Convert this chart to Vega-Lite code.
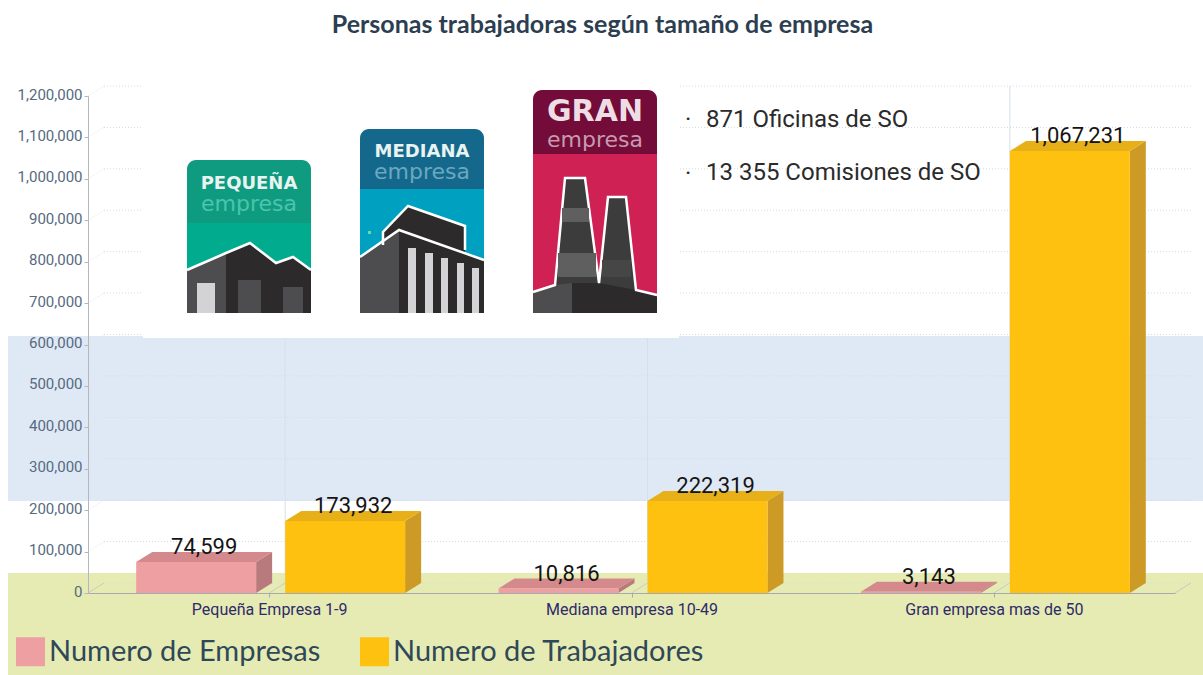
{"$schema":"https://vega.github.io/schema/vega-lite/v6.json","width":1087,"height":497,"autosize":{"type":"none"},"padding":{"left":88,"top":96,"right":28,"bottom":82},"background":"#ffffff","title":{"text":"Personas trabajadoras según tamaño de empresa","anchor":"middle","font":"Lato","fontSize":25,"fontWeight":700,"color":"#2c3e50","dx":-29,"offset":47},"config":{"view":{"stroke":null}},
"datasets":{
"barras":[{"empresa":"Pequeña Empresa 1-9","serie":"Numero de Empresas","valor":74599},{"empresa":"Pequeña Empresa 1-9","serie":"Numero de Trabajadores","valor":173932},{"empresa":"Mediana empresa 10-49","serie":"Numero de Empresas","valor":10816},{"empresa":"Mediana empresa 10-49","serie":"Numero de Trabajadores","valor":222319},{"empresa":"Gran empresa mas de 50","serie":"Numero de Empresas","valor":3143},{"empresa":"Gran empresa mas de 50","serie":"Numero de Trabajadores","valor":1067231}],
"rejilla":[{"v":0},{"v":100000},{"v":200000},{"v":300000},{"v":400000},{"v":500000},{"v":600000},{"v":700000},{"v":800000},{"v":900000},{"v":1000000},{"v":1100000},{"v":1200000}],
"divisiones":[{"d":0},{"d":0.5},{"d":1.5},{"d":2.5},{"d":3}],
"fondos":[{"pieza":"azul","u0":8,"u1":1203,"v0":336,"v1":501},{"pieza":"verde","u0":8,"u1":1203,"v0":573,"v1":675},{"pieza":"parche","u0":143,"u1":679,"v0":85,"v1":338}],
"cabeceras":[{"pieza":"peq cabecera","u0":187,"u1":311,"v0":160,"v1":223},{"pieza":"med cabecera","u0":360,"u1":484,"v0":129,"v1":189},{"pieza":"gran cabecera","u0":533,"u1":657,"v0":90,"v1":154}],
"cuerpos":[{"pieza":"peq cuerpo","u0":187,"u1":311,"v0":215,"v1":313},{"pieza":"med cuerpo","u0":360,"u1":484,"v0":189,"v1":313},{"pieza":"gran cuerpo","u0":533,"u1":657,"v0":154,"v1":313},{"pieza":"peq cabecera","u0":187,"u1":311,"v0":175,"v1":223},{"pieza":"med cabecera","u0":360,"u1":484,"v0":145,"v1":189},{"pieza":"gran cabecera","u0":533,"u1":657,"v0":105,"v1":154}],
"detalles":[{"pieza":"claro","u0":197,"u1":215,"v0":283,"v1":313},{"pieza":"gris","u0":238,"u1":261,"v0":280,"v1":313},{"pieza":"gris","u0":283,"u1":303,"v0":287,"v1":313},{"pieza":"claro","u0":408,"u1":416,"v0":248,"v1":313},{"pieza":"claro","u0":425,"u1":433,"v0":253,"v1":313},{"pieza":"claro","u0":441,"u1":448,"v0":258,"v1":313},{"pieza":"claro","u0":457,"u1":464,"v0":263,"v1":313},{"pieza":"claro","u0":472,"u1":479,"v0":268,"v1":313},{"pieza":"punto","u0":368,"u1":371,"v0":231,"v1":234},{"pieza":"franja","u0":562,"u1":589,"v0":208,"v1":222},{"pieza":"franja","u0":558,"u1":596,"v0":253,"v1":277},{"pieza":"franja2","u0":602,"u1":631,"v0":260,"v1":277}],
"siluetas":[
{"silueta":"gran","pieza":"chimenea","u":533,"v":292},{"silueta":"gran","pieza":"chimenea","u":555,"v":285},{"silueta":"gran","pieza":"chimenea","u":565,"v":178},{"silueta":"gran","pieza":"chimenea","u":585,"v":178},{"silueta":"gran","pieza":"chimenea","u":599,"v":283},{"silueta":"gran","pieza":"chimenea","u":608,"v":197},{"silueta":"gran","pieza":"chimenea","u":626,"v":197},{"silueta":"gran","pieza":"chimenea","u":636,"v":290},{"silueta":"gran","pieza":"chimenea","u":657,"v":295},
{"silueta":"base izq","pieza":"gris","u":533,"v":292},{"silueta":"base izq","pieza":"gris","u":555,"v":285},{"silueta":"base izq","pieza":"gris","u":572,"v":283},
{"silueta":"base der","pieza":"oscuro","u":572,"v":283},{"silueta":"base der","pieza":"oscuro","u":599,"v":283},{"silueta":"base der","pieza":"oscuro","u":636,"v":290},{"silueta":"base der","pieza":"oscuro","u":657,"v":295},
{"silueta":"peq izq","pieza":"gris","u":187,"v":270},{"silueta":"peq izq","pieza":"gris","u":226,"v":253},
{"silueta":"peq der","pieza":"oscuro","u":226,"v":253},{"silueta":"peq der","pieza":"oscuro","u":250,"v":243},{"silueta":"peq der","pieza":"oscuro","u":276,"v":263},{"silueta":"peq der","pieza":"oscuro","u":293,"v":257},{"silueta":"peq der","pieza":"oscuro","u":311,"v":270},
{"silueta":"med alto","pieza":"oscuro","u":383,"v":245},{"silueta":"med alto","pieza":"oscuro","u":383,"v":232},{"silueta":"med alto","pieza":"oscuro","u":408,"v":206},{"silueta":"med alto","pieza":"oscuro","u":465,"v":226},{"silueta":"med alto","pieza":"oscuro","u":465,"v":250},
{"silueta":"med izq","pieza":"gris","u":360,"v":257},{"silueta":"med izq","pieza":"gris","u":399,"v":230},
{"silueta":"med der","pieza":"oscuro","u":399,"v":230},{"silueta":"med der","pieza":"oscuro","u":484,"v":260}],
"rotulos":[{"pieza":"rotulo","texto":"PEQUEÑA","u":249,"v":189,"tam":"normal"},{"pieza":"rotulo","texto":"MEDIANA","u":422,"v":157,"tam":"normal"},{"pieza":"rotulo gran","texto":"GRAN","u":595,"v":121,"tam":"grande"}],
"empresas":[{"pieza":"peq texto","texto":"empresa","u":249,"v":211},{"pieza":"med texto","texto":"empresa","u":422,"v":179},{"pieza":"gran texto","texto":"empresa","u":595,"v":147}],
"notas":[{"texto":"·","u":685,"v":127},{"texto":"871 Oficinas de SO","u":706,"v":127},{"texto":"·","u":685,"v":181},{"texto":"13 355 Comisiones de SO","u":706,"v":180}]
},
"encoding":{
"x":{"field":"x","type":"quantitative","title":null,"scale":{"domain":[0,3],"nice":false,"zero":false},"axis":{"values":[0.5,1.5,2.5],"labelExpr":"['Pequeña Empresa 1-9','Mediana empresa 10-49','Gran empresa mas de 50'][datum.value-0.5]","grid":false,"zindex":1,"domainColor":"#a6a9b4","tickColor":"#a6a9b4","tickSize":4,"labelPadding":4,"labelFont":"Roboto","labelFontSize":16,"labelLimit":300,"labelColor":"#2e2a6b","labelOverlap":false,"labelFlush":false}},
"y":{"field":"y","type":"quantitative","title":null,"scale":{"domain":[0,1200000],"nice":false},"axis":{"values":[0,100000,200000,300000,400000,500000,600000,700000,800000,900000,1000000,1100000,1200000],"labelExpr":"format(datum.value,',')","grid":false,"zindex":1,"domainColor":"#b5b7bd","tickColor":"#b5b7bd","tickSize":4,"labelPadding":2,"labelOffset":-2,"labelFont":"Roboto","labelFontSize":15,"labelColor":"#566a80","labelOverlap":false,"labelFlush":false}}
},
"layer":[
{"data":{"name":"fondos"},"transform":[{"calculate":"(datum.u0-88)/362.33","as":"x"},{"calculate":"(datum.u1-88)/362.33","as":"x2"},{"calculate":"(593-datum.v0)*2414.5","as":"y"},{"calculate":"(593-datum.v1)*2414.5","as":"y2"}],"layer":[
{"transform":[{"filter":"datum.pieza=='azul'"}],"mark":{"type":"rect","fill":"#dfe9f5"},"encoding":{"x2":{"field":"x2"},"y2":{"field":"y2"}}},
{"transform":[{"filter":"datum.pieza=='verde'"}],"mark":{"type":"rect","fill":"#e6ebb4"},"encoding":{"x2":{"field":"x2"},"y2":{"field":"y2"}}}]},
{"data":{"name":"rejilla"},"transform":[{"calculate":"0.0442","as":"x"},{"calculate":"3.0442","as":"x2"},{"calculate":"datum.v+24145","as":"y"}],"mark":{"type":"rule","stroke":"#d5dae0","strokeWidth":1,"strokeDash":[1,2]},"encoding":{"x2":{"field":"x2"}}},
{"data":{"name":"rejilla"},"transform":[{"calculate":"0","as":"x"},{"calculate":"0.0442","as":"x2"},{"calculate":"datum.v","as":"y"},{"calculate":"datum.v+24145","as":"y2"}],"mark":{"type":"rule","stroke":"#dfe2e6","strokeWidth":1,"strokeDash":[1,2]},"encoding":{"x2":{"field":"x2"},"y2":{"field":"y2"}}},
{"data":{"name":"divisiones"},"transform":[{"filter":"datum.d>0&&datum.d<3"},{"calculate":"datum.d+0.0442","as":"x"},{"calculate":"24145","as":"y"},{"calculate":"1224145","as":"y2"}],"mark":{"type":"rule","stroke":"#d6dfe9","strokeWidth":1},"encoding":{"y2":{"field":"y2"}}},
{"data":{"name":"divisiones"},"transform":[{"calculate":"datum.d","as":"x"},{"calculate":"datum.d+0.0442","as":"x2"},{"calculate":"0","as":"y"},{"calculate":"24145","as":"y2"}],"mark":{"type":"rule","stroke":"#c9ccc0","strokeWidth":1},"encoding":{"x2":{"field":"x2"},"y2":{"field":"y2"}}},
{"data":{"name":"fondos"},"transform":[{"filter":"datum.pieza=='parche'"},{"calculate":"(datum.u0-88)/362.33","as":"x"},{"calculate":"(datum.u1-88)/362.33","as":"x2"},{"calculate":"(593-datum.v0)*2414.5","as":"y"},{"calculate":"(593-datum.v1)*2414.5","as":"y2"}],"mark":{"type":"rect","fill":"#ffffff"},"encoding":{"x2":{"field":"x2"},"y2":{"field":"y2"}}},
{"encoding":{"fill":{"field":"pieza","type":"nominal","legend":null,"scale":{"domain":["peq cabecera","med cabecera","gran cabecera","peq cuerpo","med cuerpo","gran cuerpo","claro","gris","oscuro","punto","franja","franja2","chimenea","rotulo","rotulo gran","peq texto","med texto","gran texto"],"range":["#0f9b7f","#14688c","#730c38","#00ab8e","#00a0c0","#cf2154","#d3d3d5","#4d4d4f","#2d2a2b","#6fd6a6","#5f5f5f","#464646","#3c3c3c","#e9f3f2","#eedde4","#4dc4ac","#6ba8c0","#c79aae"]}}},
"layer":[
{"data":{"name":"cabeceras"},"transform":[{"calculate":"(datum.u0-88)/362.33","as":"x"},{"calculate":"(datum.u1-88)/362.33","as":"x2"},{"calculate":"(593-datum.v0)*2414.5","as":"y"},{"calculate":"(593-datum.v1)*2414.5","as":"y2"}],"mark":{"type":"rect","cornerRadiusTopLeft":9,"cornerRadiusTopRight":9},"encoding":{"x2":{"field":"x2"},"y2":{"field":"y2"}}},
{"data":{"name":"cuerpos"},"transform":[{"calculate":"(datum.u0-88)/362.33","as":"x"},{"calculate":"(datum.u1-88)/362.33","as":"x2"},{"calculate":"(593-datum.v0)*2414.5","as":"y"},{"calculate":"(593-datum.v1)*2414.5","as":"y2"}],"mark":{"type":"rect"},"encoding":{"x2":{"field":"x2"},"y2":{"field":"y2"}}},
{"data":{"name":"siluetas"},"transform":[{"calculate":"(datum.u-88)/362.33","as":"x"},{"calculate":"(593-datum.v)*2414.5","as":"y"},{"calculate":"(593-313)*2414.5","as":"y2"}],"mark":{"type":"area","orient":"vertical"},"encoding":{"y2":{"field":"y2"},"detail":{"field":"silueta"}}},
{"data":{"name":"siluetas"},"transform":[{"calculate":"(datum.u-88)/362.33","as":"x"},{"calculate":"(593-datum.v)*2414.5","as":"y"},{"calculate":"indexof(datum.silueta,'peq')==0?'peq':(datum.silueta=='med alto'?'alto':indexof(datum.silueta,'med')==0?'med':'gran')","as":"contorno"},{"filter":"indexof(datum.silueta,'base')!=0"}],"mark":{"type":"line","stroke":"#ffffff","strokeWidth":2.5},"encoding":{"fill":{"value":"transparent"},"detail":{"field":"contorno"}}},
{"data":{"name":"detalles"},"transform":[{"calculate":"(datum.u0-88)/362.33","as":"x"},{"calculate":"(datum.u1-88)/362.33","as":"x2"},{"calculate":"(593-datum.v0)*2414.5","as":"y"},{"calculate":"(593-datum.v1)*2414.5","as":"y2"}],"mark":{"type":"rect"},"encoding":{"x2":{"field":"x2"},"y2":{"field":"y2"}}},
{"data":{"name":"rotulos"},"transform":[{"calculate":"(datum.u-88)/362.33","as":"x"},{"calculate":"(593-datum.v)*2414.5","as":"y"},{"filter":"datum.tam=='normal'"}],"mark":{"type":"text","font":"DejaVu Sans","fontWeight":"bold","fontSize":18,"align":"center","baseline":"alphabetic"},"encoding":{"text":{"field":"texto"}}},
{"data":{"name":"rotulos"},"transform":[{"calculate":"(datum.u-88)/362.33","as":"x"},{"calculate":"(593-datum.v)*2414.5","as":"y"},{"filter":"datum.tam=='grande'"}],"mark":{"type":"text","font":"DejaVu Sans","fontWeight":"bold","fontSize":30,"align":"center","baseline":"alphabetic"},"encoding":{"text":{"field":"texto"}}},
{"data":{"name":"empresas"},"transform":[{"calculate":"(datum.u-88)/362.33","as":"x"},{"calculate":"(593-datum.v)*2414.5","as":"y"}],"mark":{"type":"text","font":"DejaVu Sans","fontSize":22,"align":"center","baseline":"alphabetic"},"encoding":{"text":{"field":"texto"}}}
]},
{"data":{"name":"notas"},"transform":[{"calculate":"(datum.u-88)/362.33","as":"x"},{"calculate":"(593-datum.v)*2414.5","as":"y"}],"mark":{"type":"text","font":"Roboto","fontSize":24,"align":"left","baseline":"alphabetic","fill":"#2b2b2b"},"encoding":{"text":{"field":"texto"}}},
{"data":{"name":"barras"},"transform":[{"calculate":"indexof(['Pequeña Empresa 1-9','Mediana empresa 10-49','Gran empresa mas de 50'],datum.empresa)+0.5+(datum.serie=='Numero de Empresas'?-0.367:0.0442)","as":"x0"},{"calculate":"datum.x0+0.331","as":"x1"}],"layer":[
{"transform":[{"calculate":"[0,1]","as":"c"},{"flatten":["c"]},{"calculate":"datum.x1+datum.c*0.0442","as":"x"},{"calculate":"datum.valor+datum.c*24145","as":"y"},{"calculate":"datum.c*24145","as":"y2"}],"mark":{"type":"area","orient":"vertical"},"encoding":{"y2":{"field":"y2"},"detail":[{"field":"empresa"},{"field":"serie"}],"fill":{"condition":{"test":"datum.serie=='Numero de Empresas'","value":"#b87a7c"},"value":"#cc9a25"}}},
{"transform":[{"calculate":"[0,1,2,3]","as":"c"},{"flatten":["c"]},{"calculate":"datum.c==0?datum.x0:datum.c==1?datum.x0+0.0442:datum.c==2?datum.x1:datum.x1+0.0442","as":"x"},{"calculate":"datum.c==3?datum.valor+24145:datum.valor","as":"y"},{"calculate":"datum.c==0?datum.valor:datum.valor+24145","as":"y2"}],"mark":{"type":"area","orient":"vertical"},"encoding":{"y2":{"field":"y2"},"detail":[{"field":"empresa"},{"field":"serie"}],"fill":{"condition":{"test":"datum.serie=='Numero de Empresas'","value":"#d48a8c"},"value":"#e8b018"}}},
{"transform":[{"calculate":"datum.x0","as":"x"},{"calculate":"datum.valor","as":"y"},{"calculate":"0","as":"y2"}],"mark":{"type":"rect"},"encoding":{"x2":{"field":"x1"},"y2":{"field":"y2"},"color":{"field":"serie","type":"nominal","title":null,"scale":{"domain":["Numero de Empresas","Numero de Trabajadores"],"range":["#ee9fa1","#fec10f"]},"legend":{"orient":"none","direction":"horizontal","legendX":-72,"legendY":541,"symbolType":"square","symbolSize":841,"symbolStrokeWidth":0,"symbolOpacity":1,"labelFont":"Lato","labelFontSize":29,"labelColor":"#2f4858","labelOffset":4,"columnPadding":39,"labelLimit":400,"padding":0}}}},
{"transform":[{"calculate":"datum.x0+0.1877","as":"x"},{"calculate":"datum.valor","as":"y"}],"mark":{"type":"text","font":"Roboto","fontSize":22,"align":"center","baseline":"alphabetic","dy":-8,"fill":"#141414"},"encoding":{"text":{"field":"valor","type":"quantitative","format":","}}}
]}
]}
